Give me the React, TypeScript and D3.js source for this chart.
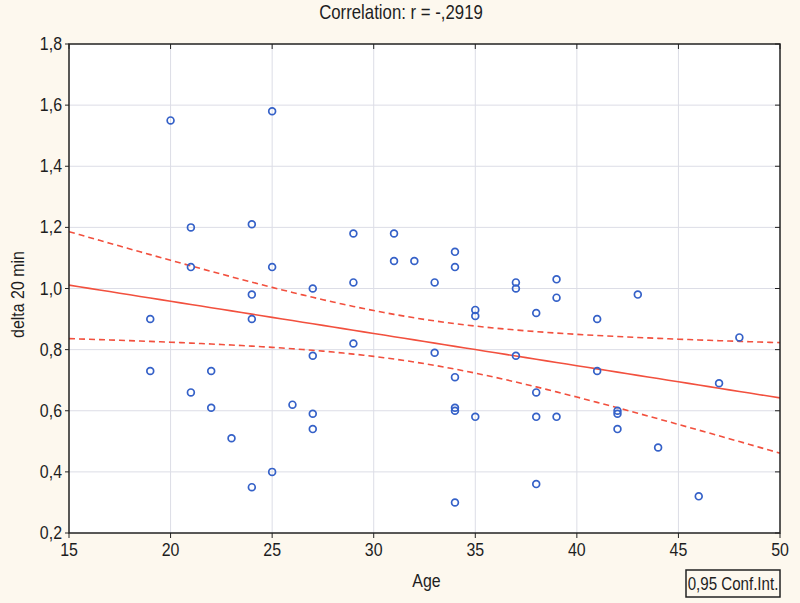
import React from "react";
import * as d3 from "d3";

const ages = [19,19,20,21,21,21,22,22,23,24,24,24,24,25,25,25,26,27,27,27,27,29,29,29,31,31,32,33,33,34,34,34,34,34,34,35,35,35,37,37,37,38,38,38,38,39,39,39,41,41,42,42,42,43,44,46,47,48];
const delta = [0.90,0.73,1.55,1.20,1.07,0.66,0.73,0.61,0.51,1.21,0.98,0.90,0.35,1.58,1.07,0.40,0.62,1.00,0.78,0.59,0.54,1.18,1.02,0.82,1.18,1.09,1.09,1.02,0.79,1.12,1.07,0.71,0.61,0.60,0.30,0.93,0.91,0.58,1.02,1.00,0.78,0.92,0.66,0.58,0.36,1.03,0.97,0.58,0.90,0.73,0.60,0.59,0.54,0.98,0.48,0.32,0.69,0.84];
// fitted line values read at Age 15 and Age 50
const fitEnds = [1.011, 0.642];
const xTicks = [15,20,25,30,35,40,45,50];
const yTicks = [0.2,0.4,0.6,0.8,1.0,1.2,1.4,1.6,1.8];
const title = "Correlation: r = -,2919";
const xLabel = "Age";
const yLabel = "delta 20 min";
const legendLabel = "0,95 Conf.Int.";

const W = 800, H = 603;
const left = 69, right = 780, top = 44, bottom = 533;
const FONT = "'Liberation Sans', Arial, sans-serif";
const SX = 0.84;

function fmt(v: number, d: number) {
  return v.toFixed(d).replace(".", ",");
}

function NText({ x, y, anchor, size, children, rotate }: any) {
  return (
    <text
      transform={`translate(${x},${y})${rotate ? ` rotate(${rotate})` : ""} scale(${SX},1)`}
      textAnchor={anchor}
      fontSize={size}
      fill="#1e1e1e"
    >
      {children}
    </text>
  );
}

export default function App() {
  const x = d3.scaleLinear().domain([15, 50]).range([left, right]);
  const y = d3.scaleLinear().domain([0.2, 1.8]).range([bottom, top]);

  const n = ages.length;
  const mx = d3.mean(ages)!;
  let sxx = 0;
  for (let i = 0; i < n; i++) sxx += (ages[i] - mx) ** 2;
  const b = (fitEnds[1] - fitEnds[0]) / 35;
  const a = fitEnds[0] - b * 15;
  let sse = 0;
  for (let i = 0; i < n; i++) sse += (delta[i] - (a + b * ages[i])) ** 2;
  const s = Math.sqrt(sse / (n - 2));
  const t = 2.003;
  const xs = d3.range(15, 50.01, 0.5);
  const fit = (v: number) => a + b * v;
  const hw = (v: number) => t * s * Math.sqrt(1 / n + (v - mx) ** 2 / sxx);
  const line = d3.line<number[]>().x((d) => x(d[0])).y((d) => y(d[1]));
  const mainPath = line(xs.map((v) => [v, fit(v)]))!;
  const upPath = line(xs.map((v) => [v, fit(v) + hw(v)]))!;
  const loPath = line(xs.map((v) => [v, fit(v) - hw(v)]))!;

  const red = "#f2503e";
  const blue = "#3561c8";

  return (
    <svg width={W} height={H} style={{ position: "absolute", left: 0, top: 0, background: "#fdf8ee" }} fontFamily={FONT}>
      <rect x={0} y={0} width={W} height={H} fill="#fdf8ee" />
      <rect x={left} y={top} width={right - left} height={bottom - top} fill="#ffffff" />
      <defs>
        <clipPath id="clip">
          <rect x={left} y={top} width={right - left} height={bottom - top} />
        </clipPath>
      </defs>
      {xTicks.slice(1, -1).map((v) => (
        <line key={"gx" + v} x1={x(v)} x2={x(v)} y1={top} y2={bottom} stroke="#dcdde6" strokeWidth={1} />
      ))}
      {yTicks.slice(1, -1).map((v) => (
        <line key={"gy" + v} x1={left} x2={right} y1={y(v)} y2={y(v)} stroke="#dcdde6" strokeWidth={1} />
      ))}
      <g clipPath="url(#clip)">
        <path d={upPath} fill="none" stroke={red} strokeWidth={1.6} strokeDasharray="6,4" />
        <path d={loPath} fill="none" stroke={red} strokeWidth={1.6} strokeDasharray="6,4" />
        <path d={mainPath} fill="none" stroke={red} strokeWidth={1.6} />
      </g>
      {ages.map((v, i) => (
        <circle key={i} cx={x(v)} cy={y(delta[i])} r={3.4} fill="none" stroke={blue} strokeWidth={1.7} />
      ))}
      <rect x={left} y={top} width={right - left} height={bottom - top} fill="none" stroke="#222" strokeWidth={1.5} />
      {xTicks.map((v) => (
        <g key={"tx" + v}>
          <line x1={x(v)} x2={x(v)} y1={bottom} y2={bottom + 5} stroke="#222" strokeWidth={1} />
          <line x1={x(v)} x2={x(v)} y1={top} y2={top + 5} stroke="#222" strokeWidth={1} />
          <NText x={x(v)} y={bottom + 23} anchor="middle" size={19}>{v}</NText>
        </g>
      ))}
      {yTicks.map((v) => (
        <g key={"ty" + v}>
          <line x1={left - 4} x2={left} y1={y(v)} y2={y(v)} stroke="#222" strokeWidth={1} />
          <line x1={right - 5} x2={right} y1={y(v)} y2={y(v)} stroke="#222" strokeWidth={1} />
          <NText x={left - 7} y={y(v) + 6} anchor="end" size={19}>{fmt(v, 1)}</NText>
        </g>
      ))}
      <NText x={401} y={19} anchor="middle" size={20}>{title}</NText>
      <NText x={(left + right) / 2 + 2} y={587} anchor="middle" size={19}>{xLabel}</NText>
      <text transform={`translate(24,${(top + bottom) / 2 + 6}) rotate(-90) scale(${SX},1)`} textAnchor="middle" fontSize={19} fill="#1e1e1e">{yLabel}</text>
      <rect x={686} y={570} width={94} height={27} fill="#fdf8ee" stroke="#222" strokeWidth={1.5} />
      <NText x={733} y={590} anchor="middle" size={18}>{legendLabel}</NText>
    </svg>
  );
}
